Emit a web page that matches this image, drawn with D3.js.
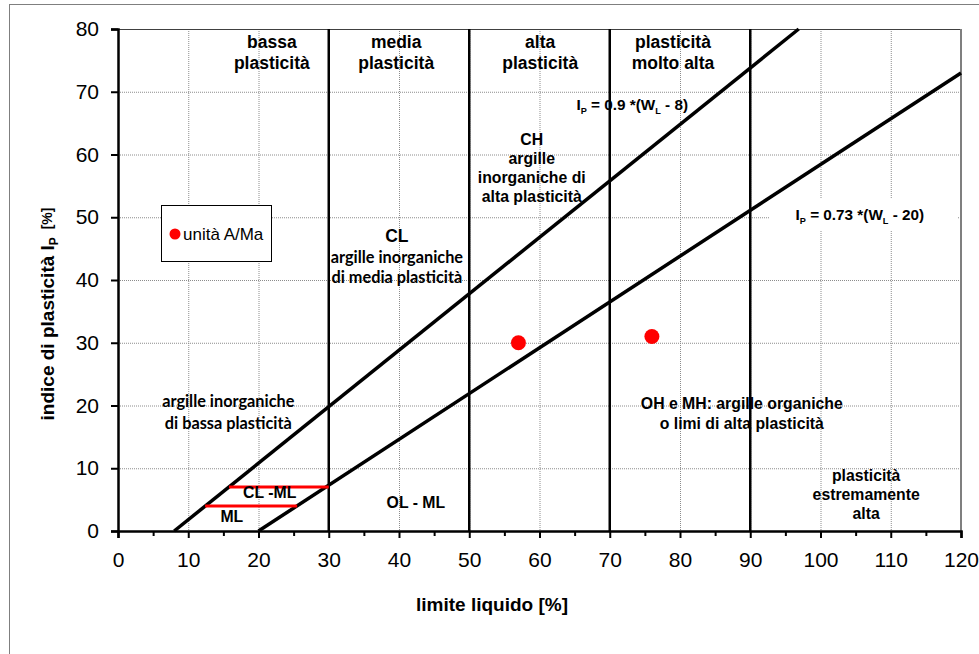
<!DOCTYPE html>
<html>
<head>
<meta charset="utf-8">
<script src="https://cdn.jsdelivr.net/npm/d3@7"></script>
<style>
  body { margin: 0; background: #fff; }
  svg { display: block; font-family: "Liberation Sans", Arial, sans-serif; }
</style>
</head>
<body>
<svg width="979" height="654"></svg>
<script>
// values
const xTickValues = [0, 10, 20, 30, 40, 50, 60, 70, 80, 90, 100, 110, 120];
const xMinorTicks = [5, 15, 25, 35, 45, 55, 65, 75, 85, 95, 105, 115];
const yTickValues = [0, 10, 20, 30, 40, 50, 60, 70, 80];
const zoneBounds = [30, 50, 70, 90];          // W_L limits of the plasticity classes
const uLineWL = [8, 96.9], uLineIP = [0, 80];  // I_P = 0.9 (W_L - 8)
const aLineWL = [20, 120], aLineIP = [0, 73];  // I_P = 0.73 (W_L - 20)
const redWL0 = [15.8, 12.4], redWL1 = [30, 25.5], redIP = [7, 4];
const sampleWL = [57, 76];
const sampleIP = [30, 31];
const legendLabel = 'unità A/Ma';

// zone labels: [W_L, I_P of first line, line spacing px, style, lines]
const labels = [
  [21.9, 77.9, 21, 'h', [['bassa'], ['plasticità']]],
  [39.6, 77.9, 21, 'h', [['media'], ['plasticità']]],
  [60.1, 77.9, 21, 'h', [['alta'], ['plasticità']]],
  [79.0, 77.9, 21, 'h', [['plasticità'], ['molto alta']]],
  [73.2, 68.0, 19, 'e', [[['I'], ['P', 1], [' = 0.9 *(W'], ['L', 1], [' - 8)']]]],
  [58.9, 62.5, 19, 'a', [['CH'], ['argille'], ['inorganiche di'], ['alta plasticità']]],
  [105.6, 50.4, 19, 'e', [[['I'], ['P', 1], [' = 0.73 *(W'], ['L', 1], [' - 20)']]]],
  [39.7, 47.0, 20.5, 'h', [['CL']]],
  [39.7, 43.7, 20.5, 'c', [['argille inorganiche'], ['di media plasticità']]],
  [15.7, 20.7, 22, 'c', [['argille inorganiche'], ['di bassa plasticità']]],
  [88.8, 20.4, 20, 'a', [['OH e MH: argille organiche'], ['o limi di alta plasticità']]],
  [106.5, 8.8, 19, 'a', [['plasticità'], ['estremamente'], ['alta']]],
  [21.6, 6.1, 19, 'a', [['CL -ML']]],
  [16.2, 2.4, 19, 'a', [['ML']]],
  [42.4, 4.5, 19, 'a', [['OL - ML']]]
];

const styles = {
  h: { family: '"Liberation Sans", Arial, sans-serif', size: 17.5 },
  a: { family: '"Liberation Sans", Arial, sans-serif', size: 15.8 },
  e: { family: '"Liberation Sans", Arial, sans-serif', size: 15.3 },
  c: { family: 'Lato, "Open Sans", sans-serif', size: 16.3 }
};

const svg = d3.select('svg');
const plotLeft = 118, plotRight = 961, plotTop = 29, plotBottom = 531;

const x = d3.scaleLinear().domain([0, 120]).range([plotLeft, plotRight]);
const y = d3.scaleLinear().domain([0, 80]).range([plotBottom, plotTop]);

// outer frame of the figure
svg.append('rect')
  .attr('x', 9.5).attr('y', 4.5)
  .attr('width', 1000).attr('height', 700)
  .attr('fill', 'none')
  .attr('stroke', '#7f7f7f');

// grid
const grid = svg.append('g').attr('class', 'grid');
grid.selectAll('line.v')
  .data(xTickValues.filter(d => d > 0 && d < 120))
  .enter().append('line')
  .attr('x1', d => x(d) + 0.5).attr('x2', d => x(d) + 0.5)
  .attr('y1', plotTop).attr('y2', plotBottom)
  .attr('stroke', '#8c8c8c').attr('stroke-dasharray', '1,1');
grid.selectAll('line.h')
  .data(yTickValues.filter(d => d > 0 && d < 80))
  .enter().append('line')
  .attr('x1', plotLeft).attr('x2', plotRight)
  .attr('y1', d => y(d) + 0.5).attr('y2', d => y(d) + 0.5)
  .attr('stroke', '#8c8c8c').attr('stroke-dasharray', '1,1');

// plot frame
svg.append('line')
  .attr('x1', plotLeft).attr('x2', plotRight)
  .attr('y1', plotTop + 0.5).attr('y2', plotTop + 0.5)
  .attr('stroke', '#404040');
svg.append('line')
  .attr('x1', plotRight).attr('x2', plotRight)
  .attr('y1', plotTop).attr('y2', plotBottom)
  .attr('stroke', '#7f7f7f').attr('stroke-width', 2);

// white box behind the A-line equation
svg.append('rect')
  .attr('x', 770).attr('y', 198)
  .attr('width', 187).attr('height', 32)
  .attr('fill', '#fff');

// class boundaries
svg.selectAll('line.zone')
  .data(zoneBounds)
  .enter().append('line')
  .attr('x1', d => x(d)).attr('x2', d => x(d))
  .attr('y1', y(0)).attr('y2', y(80))
  .attr('stroke', '#000').attr('stroke-width', 2.5);

const line = d3.line().x(d => x(d[0])).y(d => y(d[1]));
[[uLineWL, uLineIP], [aLineWL, aLineIP]].forEach(([wl, ip]) => {
  svg.append('path')
    .datum(wl.map((d, i) => [d, ip[i]]))
    .attr('d', line)
    .attr('fill', 'none')
    .attr('stroke', '#000')
    .attr('stroke-width', 3.5);
});

svg.selectAll('line.red')
  .data(redIP)
  .enter().append('line')
  .attr('x1', (d, i) => x(redWL0[i])).attr('x2', (d, i) => x(redWL1[i]))
  .attr('y1', d => y(d)).attr('y2', d => y(d))
  .attr('stroke', '#ff0000').attr('stroke-width', 3);

// axes
const xAxis = svg.append('g')
  .attr('transform', `translate(0,${plotBottom})`)
  .call(d3.axisBottom(x).tickValues(xTickValues).tickSize(7).tickPadding(14));
svg.append('g')
  .attr('transform', `translate(0,${plotBottom})`)
  .call(d3.axisBottom(x).tickValues(xMinorTicks).tickSize(5).tickFormat(''))
  .call(g => g.select('.domain').remove());
const yAxis = svg.append('g')
  .attr('transform', `translate(${plotLeft},0)`)
  .call(d3.axisLeft(y).tickValues(yTickValues).tickSize(7).tickPadding(12));

svg.selectAll('.tick line').attr('stroke', '#000').attr('stroke-width', 2);
[xAxis, yAxis].forEach(g => {
  g.select('.domain').attr('stroke', '#000').attr('stroke-width', 2.5);
  g.selectAll('.tick text')
    .attr('font-family', '"Liberation Sans", Arial, sans-serif')
    .attr('font-size', 21)
    .attr('fill', '#000');
});

// sample points
svg.selectAll('circle.sample')
  .data(sampleWL)
  .enter().append('circle')
  .attr('cx', d => x(d))
  .attr('cy', (d, i) => y(sampleIP[i]))
  .attr('r', 7.5)
  .attr('fill', '#ff0000');

// zone labels
labels.forEach(([wl, ip, gap, st, lines]) => {
  const s = styles[st];
  lines.forEach((ln, i) => {
    const t = svg.append('text')
      .attr('x', x(wl))
      .attr('y', y(ip) + i * gap)
      .attr('dy', '0.36em')
      .attr('text-anchor', 'middle')
      .attr('font-family', s.family)
      .attr('font-size', s.size)
      .attr('font-weight', 'bold');
    const segs = typeof ln[0] === 'string' ? [ln] : ln;
    segs.forEach(([txt, sub], k) => {
      const sp = t.append('tspan').text(txt);
      if (sub) sp.attr('font-size', s.size * 0.6).attr('dy', 4);
      else if (k > 0) sp.attr('dy', -4);
    });
  });
});

// legend
const lg = svg.append('g');
lg.append('rect')
  .attr('x', 161.5).attr('y', 205.5)
  .attr('width', 110).attr('height', 56)
  .attr('fill', '#fff').attr('stroke', '#000');
lg.append('circle')
  .attr('cx', 175).attr('cy', 234).attr('r', 5.5)
  .attr('fill', '#ff0000');
lg.append('text')
  .attr('x', 183).attr('y', 234).attr('dy', '0.36em')
  .attr('font-size', 17)
  .text(legendLabel);

// axis titles
svg.append('text')
  .attr('x', 492).attr('y', 604)
  .attr('dy', '0.36em')
  .attr('text-anchor', 'middle')
  .attr('font-size', 19)
  .attr('font-weight', 'bold')
  .text('limite liquido [%]');

const yt = svg.append('text')
  .attr('transform', 'translate(47,314) rotate(-90)')
  .attr('dy', '0.36em')
  .attr('text-anchor', 'middle')
  .attr('font-size', 19)
  .attr('font-weight', 'bold');
yt.append('tspan').text('indice di plasticità I');
yt.append('tspan').text('P').attr('font-size', 12).attr('dy', 4);
yt.append('tspan').text('\u00a0\u00a0[%]').attr('font-size', 14).attr('dy', -6);
</script>
</body>
</html>
